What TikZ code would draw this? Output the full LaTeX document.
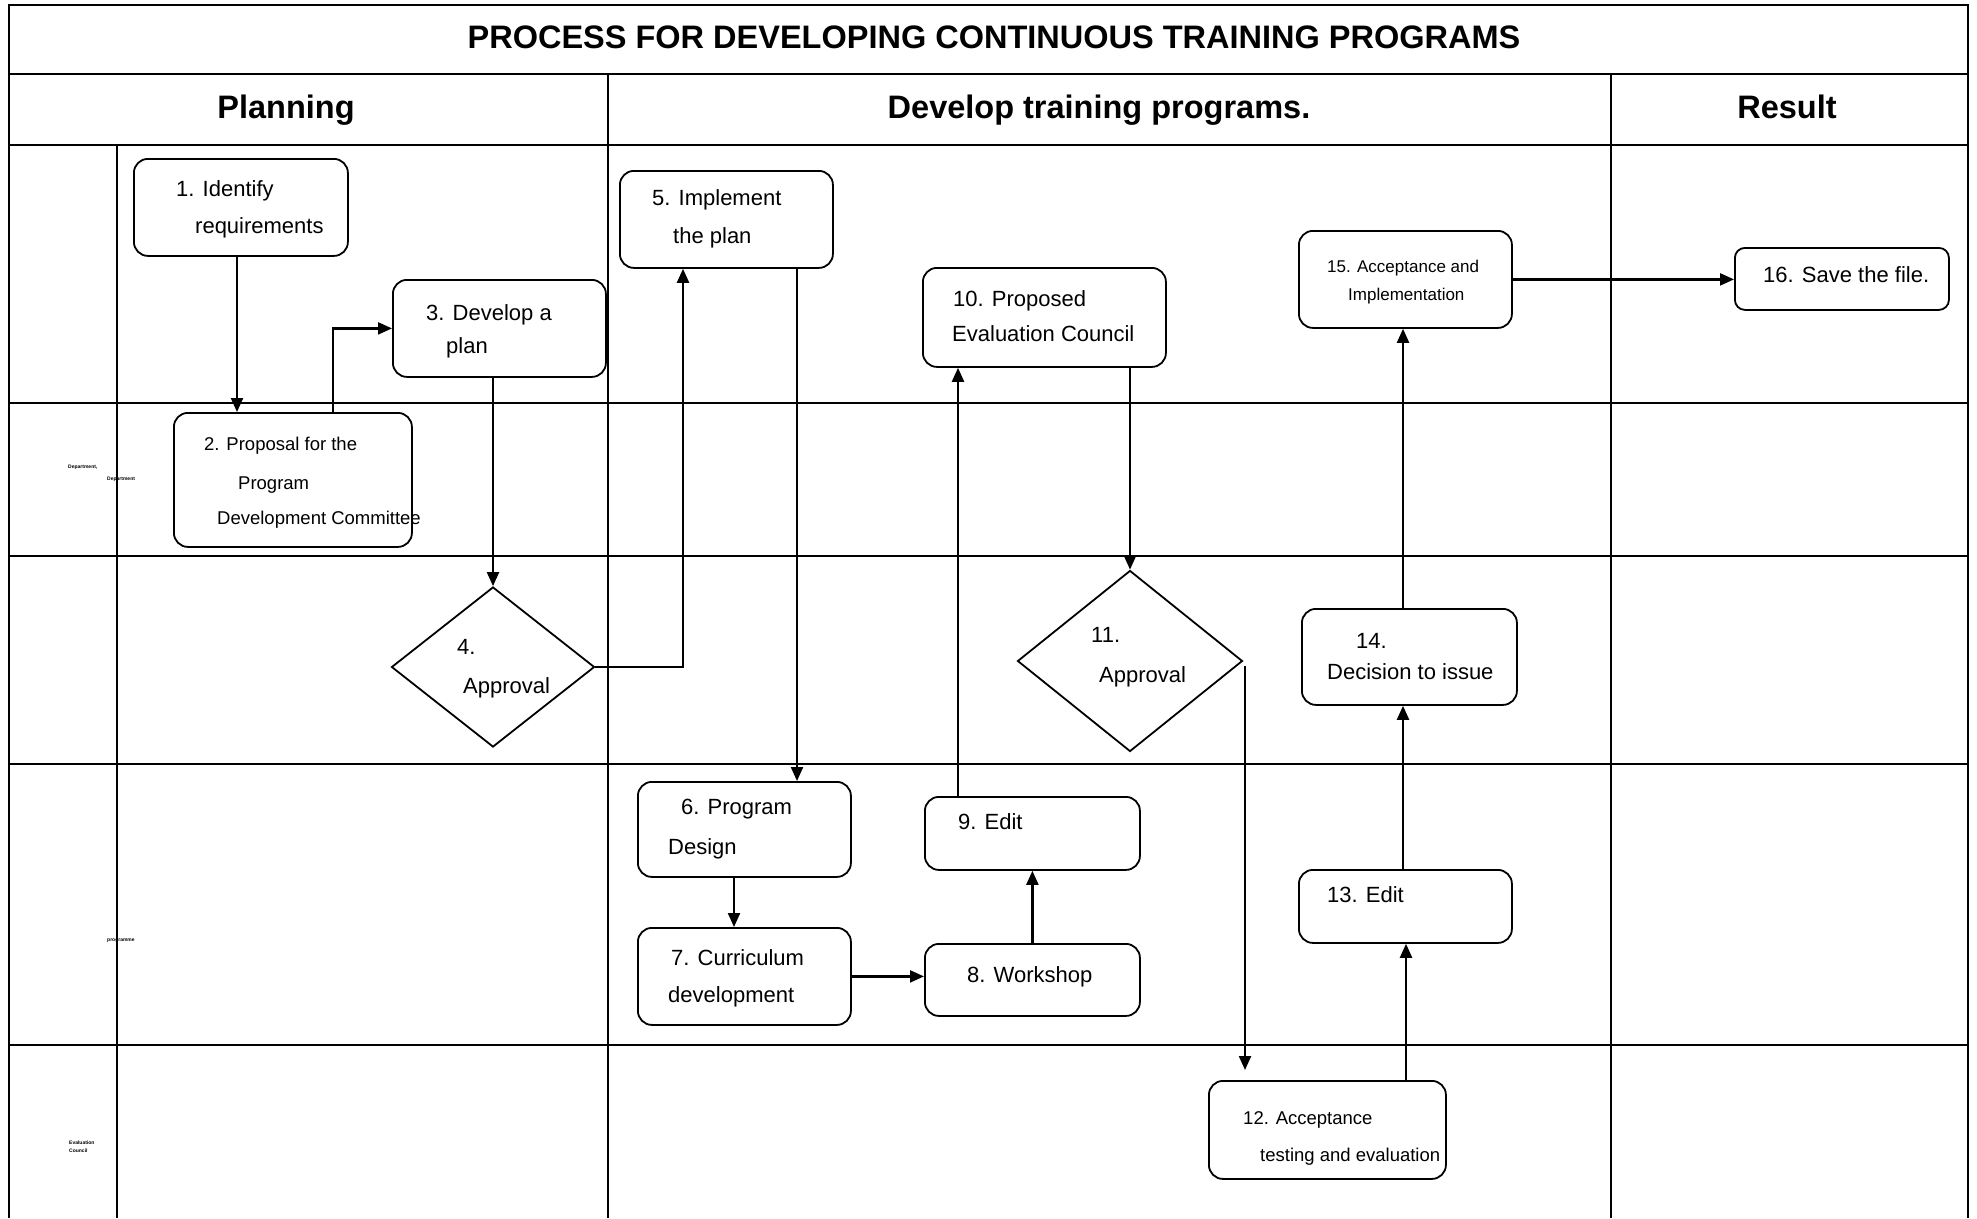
\documentclass[tikz,border=0pt]{standalone}
\usepackage{fontspec}
\setmainfont{Liberation Sans}
\usetikzlibrary{arrows.meta,shapes.geometric}
\begin{document}
\begin{tikzpicture}[x=1pt,y=-1pt,
  frameline/.style={line width=2pt},
  box/.style={draw,line width=1.8pt,rounded corners=14pt,inner sep=0pt,anchor=north west},
  dia/.style={draw,diamond,line width=1.8pt,inner sep=0pt},
  txt/.style={anchor=west,inner sep=0pt,text height=0.7em,text depth=0pt,yshift=-4pt,font=\fontsize{22}{26}\selectfont},
  stxt/.style={txt,font=\fontsize{18.5}{22}\selectfont},
  xstxt/.style={txt,font=\fontsize{17}{20}\selectfont},
  head/.style={inner sep=0pt,text height=24pt,text depth=7pt,font=\fontsize{32.5}{38}\selectfont\bfseries},
  tiny/.style={anchor=west,inner sep=0pt,font=\fontsize{5}{6}\selectfont\bfseries},
  arr/.style={line width=2.2pt,-{Triangle[length=14pt,width=12pt]}}
]
\useasboundingbox (0,0) rectangle (1977,1218);
% frame
\draw[frameline] (9,1218) -- (9,5) -- (1968,5) -- (1968,1218);
\foreach \yy in {74,145,403,556,764,1045} \draw[frameline] (9,\yy) -- (1968,\yy);
\draw[frameline] (608,74) -- (608,1218);
\draw[frameline] (1611,74) -- (1611,1218);
\draw[frameline] (117,145) -- (117,1218);
% headings
\node[head] (title) at (994,40) {PROCESS FOR DEVELOPING CONTINUOUS TRAINING PROGRAMS};
\node[head] (hplan) at (286,110) {Planning};
\node[head] (hdev) at (1099,110) {Develop training programs.};
\node[head] (hres) at (1787,110) {Result};
% lane labels
\node[tiny] (l2a) at (68,467) {Department,};
\node[tiny] (l2b) at (107,479) {Department};
\node[tiny] (l4a) at (107,941) {programme};
\node[tiny] (l5a) at (69,1143) {Evaluation};
\node[tiny] (l5b) at (69,1151) {Council};
% boxes
\node[box,minimum width=214pt,minimum height=97pt] (b1) at (133,158) {};
\node[box,minimum width=238pt,minimum height=134pt] (b2) at (173,412) {};
\node[box,minimum width=213pt,minimum height=97pt] (b3) at (392,279) {};
\node[dia,minimum width=203pt,minimum height=160pt] (d4) at (493,667) {};
\node[box,minimum width=213pt,minimum height=97pt] (b5) at (619,170) {};
\node[box,minimum width=213pt,minimum height=95pt] (b6) at (637,781) {};
\node[box,minimum width=213pt,minimum height=97pt] (b7) at (637,927) {};
\node[box,minimum width=215pt,minimum height=72pt] (b8) at (924,943) {};
\node[box,minimum width=215pt,minimum height=73pt] (b9) at (924,796) {};
\node[box,minimum width=243pt,minimum height=99pt] (b10) at (922,267) {};
\node[dia,minimum width=225pt,minimum height=181pt] (d11) at (1130,661) {};
\node[box,minimum width=237pt,minimum height=98pt] (b12) at (1208,1080) {};
\node[box,minimum width=213pt,minimum height=73pt] (b13) at (1298,869) {};
\node[box,minimum width=215pt,minimum height=96pt] (b14) at (1301,608) {};
\node[box,minimum width=213pt,minimum height=97pt] (b15) at (1298,230) {};
\node[box,minimum width=214pt,minimum height=62pt,rounded corners=10pt] (b16) at (1734,247) {};
% texts
\node[txt] (t1a) at (176,189) {1. Identify};
\node[txt] (t1b) at (195,226) {requirements};
\node[stxt] (t2a) at (204,443) {2. Proposal for the};
\node[stxt] (t2b) at (238,482) {Program};
\node[stxt] (t2c) at (217,517) {Development Committee};
\node[txt] (t3a) at (426,313) {3. Develop a};
\node[txt] (t3b) at (446,346) {plan};
\node[txt] (t4a) at (457,647) {4.};
\node[txt] (t4b) at (463,686) {Approval};
\node[txt] (t5a) at (652,198) {5. Implement};
\node[txt] (t5b) at (673,236) {the plan};
\node[txt] (t6a) at (681,807) {6. Program};
\node[txt] (t6b) at (668,847) {Design};
\node[txt] (t7a) at (671,958) {7. Curriculum};
\node[txt] (t7b) at (668,995) {development};
\node[txt] (t8) at (967,975) {8. Workshop};
\node[txt] (t9) at (958,822) {9. Edit};
\node[txt] (t10a) at (953,299) {10. Proposed};
\node[txt] (t10b) at (952,334) {Evaluation Council};
\node[txt] (t11a) at (1091,635) {11.};
\node[txt] (t11b) at (1099,675) {Approval};
\node[stxt] (t12a) at (1243,1117) {12. Acceptance};
\node[stxt] (t12b) at (1260,1154) {testing and evaluation};
\node[txt] (t13) at (1327,895) {13. Edit};
\node[txt] (t14a) at (1356,641) {14.};
\node[txt] (t14b) at (1327,672) {Decision to issue};
\node[xstxt] (t15a) at (1327,265) {15. Acceptance and};
\node[xstxt] (t15b) at (1348,293) {Implementation};
\node[txt] (t16) at (1763,275) {16. Save the file.};
% connectors
\draw[arr] (b1.south -| 237,0) -- (b2.north -| 237,0);
\draw[arr] (b2.north -| 333,0) |- (b3.west);
\draw[arr] (b3.south -| d4.north) -- (d4.north);
\draw[arr] (d4.east) -| (b5.south -| 683,0);
\draw[arr] (b5.south -| 797,0) -- (b6.north -| 797,0);
\draw[arr] (b6.south -| 734,0) -- (b7.north -| 734,0);
\draw[arr] (b7.east) -- (b8.west |- b7.east);
\draw[arr] (b8.north) -- (b9.south);
\draw[arr] (b9.north -| 958,0) -- (b10.south -| 958,0);
\draw[arr] (b10.south -| d11.north) -- (d11.north);
\coordinate (c12) at (1245,1070);
\draw[arr] (1245,666) -- (c12);
\draw[arr] (b12.north -| 1406,0) -- (b13.south -| 1406,0);
\draw[arr] (b13.north -| 1403,0) -- (b14.south -| 1403,0);
\draw[arr] (b14.north -| 1403,0) -- (b15.south -| 1403,0);
\draw[arr] (b15.east) -- (b16.west |- b15.east);
\end{tikzpicture}
\end{document}
